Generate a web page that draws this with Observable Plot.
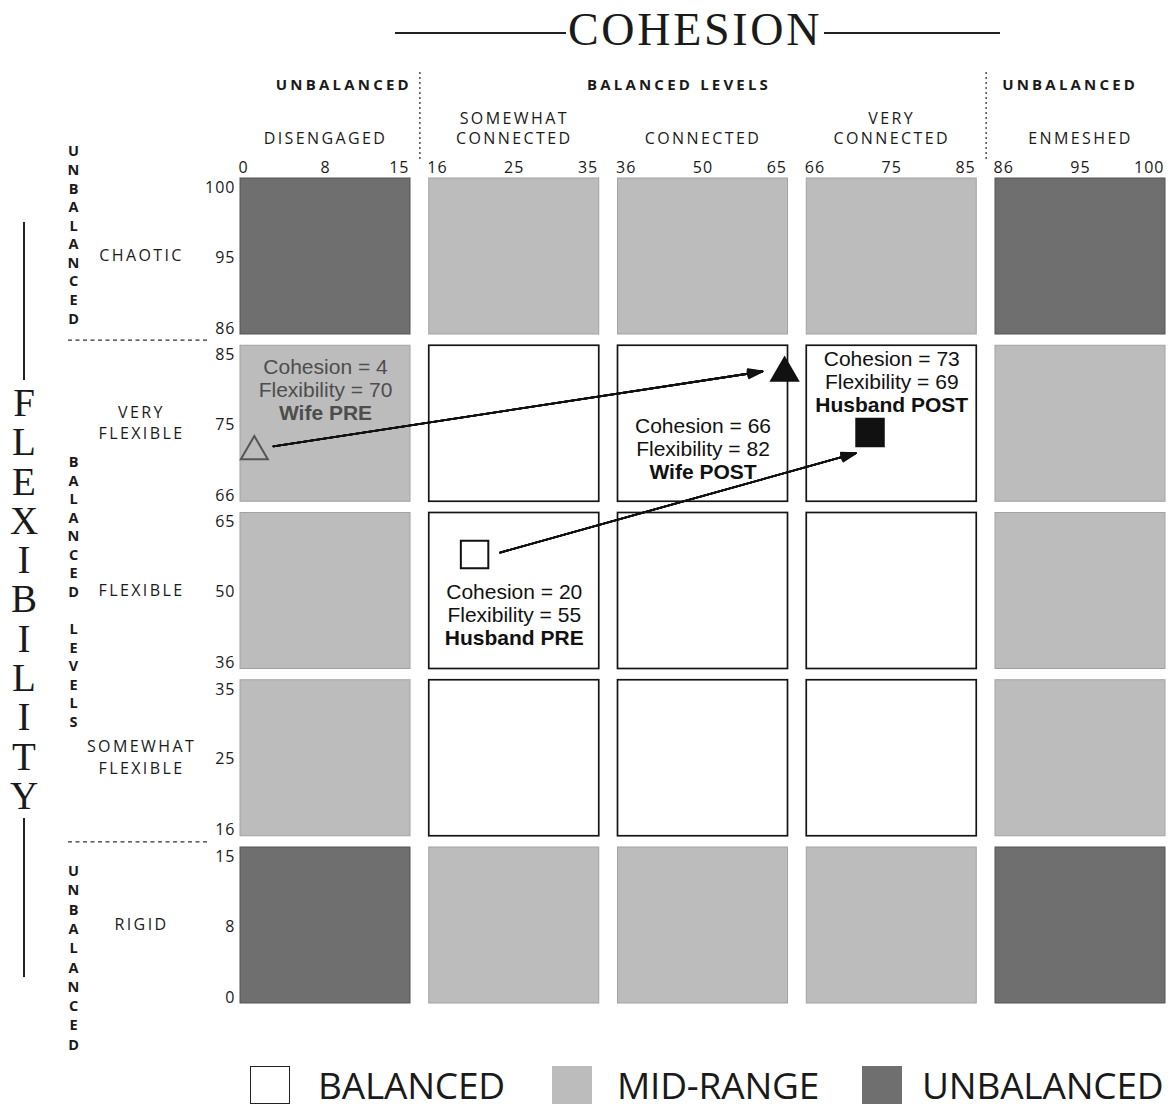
<!DOCTYPE html>
<html>
<head>
<meta charset="utf-8">
<script src="https://cdn.jsdelivr.net/npm/d3@7"></script>
<script src="https://cdn.jsdelivr.net/npm/@observablehq/plot@0.6"></script>
<style>
  html, body { margin: 0; padding: 0; background: #fff; overflow: hidden; }
  body { width: 1175px; height: 1109px; font-family: "Open Sans", sans-serif; color: #1a1a1a; }
  #title { position: relative; height: 60px; }
  #title .rule { position: absolute; top: 32px; height: 2px; background: #222; }
  #title .word { position: absolute; left: 566px; width: 258px; top: 7px; text-align: center;
    font-family: "Liberation Serif", serif; font-size: 46px; line-height: 46px; letter-spacing: 2.7px; }
  #chart { position: relative; width: 1175px; height: 1000px; }
  #flex { position: absolute; left: 0; top: 0; width: 48px; height: 1000px; pointer-events: none; }
  #flex .rule { position: absolute; left: 23px; width: 2px; background: #222; }
  #flex .word { position: absolute; left: 0; width: 48px; top: 323px; text-align: center;
    font-family: "Liberation Serif", serif; font-size: 39px; line-height: 39.3px; }
  #legend { position: relative; height: 49px; }
  #legend .item { position: absolute; top: 0; height: 49px; display: flex; align-items: center; }
  #legend .swatch { width: 40px; height: 38px; box-sizing: border-box; }
  #legend .label { font-size: 37px; line-height: 49px; letter-spacing: -0.2px; }
</style>
</head>
<body>
<div id="title">
  <div class="rule" style="left:395px;width:171px"></div>
  <div class="word">COHESION</div>
  <div class="rule" style="left:824px;width:176px"></div>
</div>
<div id="chart">
  <div id="flex">
    <div class="rule" style="top:162px;height:158px"></div>
    <div class="word"></div>
    <div class="rule" style="top:758px;height:159px"></div>
  </div>
</div>
<div id="legend"></div>
<script>
// ---- data ----
const cohesionLevels = ["DISENGAGED", "SOMEWHAT\nCONNECTED", "CONNECTED", "VERY\nCONNECTED", "ENMESHED"];
const cohesionGroups = ["UNBALANCED", "BALANCED LEVELS", "UNBALANCED"];
const flexibilityLevels = ["RIGID", "SOMEWHAT\nFLEXIBLE", "FLEXIBLE", "VERY\nFLEXIBLE", "CHAOTIC"]; // bottom to top
const flexibilityGroups = ["UNBALANCED", "BALANCED LEVELS", "UNBALANCED"]; // bottom to top
const levelLow = [0, 16, 36, 66, 86];
const levelMid = [8, 25, 50, 75, 95];
const levelHigh = [15, 35, 65, 85, 100];
const zoneNames = ["BALANCED", "MID-RANGE", "UNBALANCED"];
const zoneFill = ["#ffffff", "#bcbcbc", "#6f6f6f"];
const zoneEdge = ["#151515", "#a2a2a2", "#555555"];

const people = ["Wife PRE", "Wife POST", "Husband PRE", "Husband POST"];
const cohesionScore = [4, 66, 20, 73];
const flexibilityScore = [70, 82, 55, 69];
// where each marker is printed on the grid (score units)
const markerCohesion = [1.3, 64.4, 20.8, 72.7];
const markerFlexibility = [71.8, 81.5, 57.0, 74.0];
const markerSymbol = ["triangle", "triangle", "square", "square"];
const markerFill = ["none", "#111111", "#ffffff", "#111111"];
const markerStroke = ["#555555", "#111111", "#111111", "#111111"];
// where each annotation block is printed (middle line, score units)
const noteCohesion = [8, 50, 25, 75];
const noteFlexibility = [79.3, 72.0, 45.6, 80.3];
const noteColor = ["#4d4d4d", "#111111", "#111111", "#111111"];
// PRE -> POST arrows as printed (score units)
const arrowName = ["Wife", "Husband"];
const arrowStartCohesion = [3.1, 23.5];
const arrowStartFlexibility = [72.4, 57.4];
const arrowEndCohesion = [60.5, 71.2];
const arrowEndFlexibility = [81.7, 71.6];

// ---- layout ----
const W = 1175, H = 1000;
const gridLeft = 240, cellW = 170, gapX = 18.75;
const gridTop = 118, cellH = 156, gapY = 11.25;
const gridRight = gridLeft + 5 * cellW + 4 * gapX;
const gridBottom = gridTop + 5 * cellH + 4 * gapY;
const fx = cellW / (cellW + gapX), fy = cellH / (cellH + gapY);

// each score band is drawn as one equal-size panel: score -> panel position
const domain = levelLow.flatMap((lo, k) => [lo, levelMid[k], levelHigh[k]]);
const toPanelX = d3.scaleLinear(domain, levelLow.flatMap((_, k) => [k, k + fx / 2, k + fx]));
const toPanelY = d3.scaleLinear(domain, levelLow.flatMap((_, k) => [k, k + fy / 2, k + fy]));

const cells = [];
for (let i = 0; i < 5; i++) for (let j = 0; j < 5; j++) {
  const zone = (i === 0 || i === 4 ? 1 : 0) + (j === 0 || j === 4 ? 1 : 0);
  cells.push({x1: levelLow[i], x2: levelHigh[i], y1: levelLow[j], y2: levelHigh[j], zone});
}
const boundaries = [(levelHigh[0] + levelLow[1]) / 2, (levelHigh[3] + levelLow[4]) / 2];
const stack = s => s.split("").join("\n");

const marks = [];
for (let z = 0; z < 3; z++) {
  marks.push(Plot.rect(cells.filter(c => c.zone === z), {
    x1: "x1", x2: "x2", y1: "y1", y2: "y2",
    fill: zoneFill[z], stroke: zoneEdge[z], strokeWidth: z === 0 ? 1.7 : 1
  }));
}
// dotted separators
marks.push(Plot.ruleX(boundaries, {stroke: "#333", strokeWidth: 1.3, strokeDasharray: "2,3", insetTop: -106, insetBottom: 841}));
marks.push(Plot.ruleY([boundaries[1], boundaries[0]], {stroke: "#333", strokeWidth: 1.2, strokeDasharray: "4,3.5", insetLeft: -172, insetRight: 958}));

// arrows (fan of heads to get a filled arrowhead)
const arrows = arrowName.map((name, k) => ({name, k}));
for (const ang of [36, 28, 20, 12, 5]) {
  marks.push(Plot.arrow(arrows, {
    x1: d => arrowStartCohesion[d.k], y1: d => arrowStartFlexibility[d.k],
    x2: d => arrowEndCohesion[d.k], y2: d => arrowEndFlexibility[d.k],
    stroke: "#111", strokeWidth: 1.8, headLength: 12.5, headAngle: ang
  }));
}

// markers
people.forEach((name, i) => {
  marks.push(Plot.dot([i], {
    x: d => markerCohesion[d], y: d => markerFlexibility[d],
    symbol: markerSymbol[i], r: markerSymbol[i] === "triangle" ? 10 : 15.5,
    fill: markerFill[i], stroke: markerStroke[i], strokeWidth: 2
  }));
});

// annotations
people.forEach((name, i) => {
  const common = {x: d => noteCohesion[d], y: d => noteFlexibility[d],
    fontFamily: "'Liberation Sans', Arial, sans-serif", fontSize: 21, fill: noteColor[i]};
  marks.push(Plot.text([i], {...common, text: () => `Cohesion = ${cohesionScore[i]}`, dy: -23}));
  marks.push(Plot.text([i], {...common, text: () => `Flexibility = ${flexibilityScore[i]}`, dy: 0}));
  marks.push(Plot.text([i], {...common, text: () => name, dy: 23, fontWeight: "bold"}));
});

// x tick labels
const xt = {x: d => d, text: d => String(d), frameAnchor: "top", lineAnchor: "bottom", dy: -6, fontSize: 16};
marks.push(Plot.text(levelLow, {...xt, textAnchor: "start", dx: -2}));
marks.push(Plot.text(levelMid, {...xt, textAnchor: "middle"}));
marks.push(Plot.text(levelHigh, {...xt, textAnchor: "end", dx: -1}));
// y tick labels
const yt = {y: d => d, text: d => String(d), frameAnchor: "left", textAnchor: "end", dx: -5, fontSize: 16};
marks.push(Plot.text(levelHigh, {...yt, lineAnchor: "top", dy: 3}));
marks.push(Plot.text(levelMid, {...yt, lineAnchor: "middle", dy: 1}));
marks.push(Plot.text(levelLow, {...yt, lineAnchor: "bottom", dy: -1}));
// level names
marks.push(Plot.text(levelMid, {x: d => d, text: (d, i) => cohesionLevels[i], frameAnchor: "top",
  lineAnchor: "bottom", dy: -35, lineHeight: 1.25, fontSize: 16}));
marks.push(Plot.text(levelMid, {y: d => d, text: (d, i) => flexibilityLevels[i], frameAnchor: "left",
  textAnchor: "middle", dx: -99, dy: -2, lineHeight: 1.35, fontSize: 16}));
// group headers (top)
const gh = {x: d => d, frameAnchor: "top", lineAnchor: "bottom", dy: -89, fontSize: 15, fontWeight: "bold"};
marks.push(Plot.text([boundaries[0]], {...gh, text: () => cohesionGroups[0], textAnchor: "end", dx: -8}));
marks.push(Plot.text([levelMid[2]], {...gh, text: () => cohesionGroups[1], textAnchor: "middle", dx: -24}));
marks.push(Plot.text([boundaries[1]], {...gh, text: () => cohesionGroups[2], textAnchor: "start", dx: 16}));
// group headers (left, stacked letters)
const gv = {y: d => d, frameAnchor: "left", textAnchor: "middle", dx: -167, fontSize: 14.5, fontWeight: "bold"};
marks.push(Plot.text([levelLow[4]], {...gv, text: () => stack(flexibilityGroups[2]), lineAnchor: "bottom", dy: -11, lineHeight: 1.28}));
marks.push(Plot.text([levelMid[2]], {...gv, text: () => stack(flexibilityGroups[1]), lineAnchor: "middle", dy: 0, lineHeight: 1.28}));
marks.push(Plot.text([levelHigh[0]], {...gv, text: () => stack(flexibilityGroups[0]), lineAnchor: "top", dy: 15, lineHeight: 1.33}));

const chart = Plot.plot({
  width: W, height: H,
  marginLeft: gridLeft, marginTop: gridTop,
  marginRight: W - gridRight, marginBottom: H - gridBottom,
  x: {transform: toPanelX, domain: [0, 4 + fx], axis: null},
  y: {transform: toPanelY, domain: [0, 4 + fy], axis: null},
  style: {fontFamily: "'Open Sans', sans-serif", color: "#1a1a1a", background: "white", overflow: "visible"},
  marks
});
document.getElementById("chart").prepend(chart);

// letter spacing like the original typesetting
chart.querySelectorAll("text").forEach(t => {
  const s = t.textContent;
  const g = t.closest("g");
  const bold = g && g.getAttribute("font-weight") === "bold";
  if (/^[0-9]+$/.test(s)) t.style.letterSpacing = "1px";
  else if (/^[A-Z ]{2,}$/.test(s) && t.querySelectorAll("tspan").length < 6) {
    t.style.letterSpacing = bold ? "3.2px" : "2.4px";
  }
});

// FLEXIBILITY title
document.querySelector("#flex .word").innerHTML = "FLEXIBILITY".split("").join("<br>");

// legend
const legendLeft = [250, 552, 862];
const legendGap = [28, 25, 20];
const legend = document.getElementById("legend");
zoneNames.forEach((name, i) => {
  const item = document.createElement("div");
  item.className = "item";
  item.style.left = legendLeft[i] + "px";
  const sw = document.createElement("div");
  sw.className = "swatch";
  sw.style.background = zoneFill[i];
  if (i === 0) sw.style.border = "1.5px solid #222";
  const lab = document.createElement("div");
  lab.className = "label";
  lab.style.marginLeft = legendGap[i] + "px";
  lab.textContent = name;
  item.append(sw, lab);
  legend.append(item);
});
</script>
</body>
</html>
